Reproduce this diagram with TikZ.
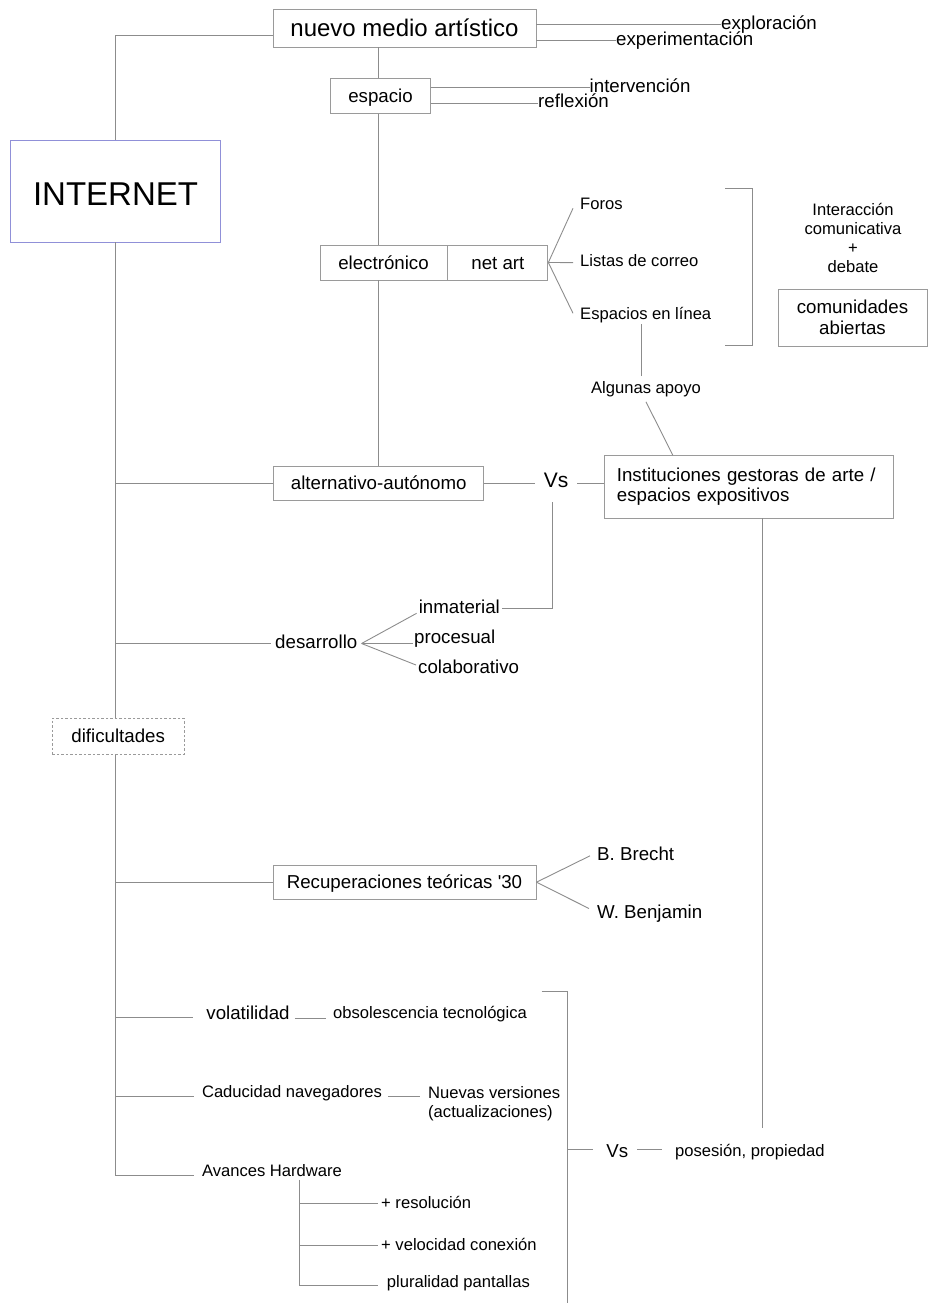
\documentclass[tikz,border=0pt]{standalone}
\usepackage{fontspec}
\setmainfont{Liberation Sans}
\newfontfamily\rawfont{Liberation Sans}
\usepackage{tikz}
\usetikzlibrary{positioning}
\definecolor{linegray}{HTML}{8C8C8C}
\definecolor{boxgray}{HTML}{9A9A9A}
\definecolor{netblue}{HTML}{9090D8}
\newcommand{\fnet}{\fontsize{33}{38}\selectfont}
\newcommand{\ftitle}{\fontsize{24}{28}\selectfont}
\newcommand{\fmid}{\fontsize{18.7}{20}\selectfont}
\newcommand{\fsmall}{\fontsize{16.6}{18.7}\selectfont}
\tikzstyle{block} = [draw=boxgray, line width=0.9pt, fill=white, rectangle, inner sep=0pt, font=\fmid]
\tikzstyle{oneline} = [text height=13.5pt, text depth=0.5pt]
\tikzstyle{mtext} = [inner sep=0pt, font=\fmid, text height=13.5pt, text depth=3.7pt]
\tikzstyle{stext} = [inner sep=0pt, font=\fsmall, text height=12pt, text depth=3.3pt]
\tikzstyle{link} = [draw=linegray, line width=0.9pt]

\begin{document}
\begin{tikzpicture}[x=1pt, y=-1pt]
    \useasboundingbox (0,0) rectangle (927,1303);
    \node [block, minimum width=263pt, minimum height=38pt, font=\ftitle, text height=17pt, text depth=0pt] (nuevo) at (404.5,28) {nuevo medio artístico};
    \node [block, draw=netblue, minimum width=210pt, minimum height=102pt, font=\fnet, text height=29pt, text depth=0pt] (internet) at (115.5,191) {INTERNET};
    \node [mtext, anchor=west] (explor) at (721,24.3) {exploración};
    \node [mtext, anchor=west] (experim) at (616,40.7) {experimentación};
    \node [block, oneline, minimum width=100pt, minimum height=35pt] (espacio) at (380.5,96.2) {espacio};
    \node [mtext, anchor=west] (interv) at (589.5,87.3) {intervención};
    \node [mtext, anchor=west] (reflex) at (538,103) {reflexión};
    \node [block, oneline, minimum width=127pt, minimum height=35pt] (elec) at (383.5,262.5) {electrónico};
    \node [block, oneline, minimum width=100pt, minimum height=35pt, right=0pt of elec] (netart) {net art};
    \node [stext, anchor=west, inner xsep=7pt] (foros) at (573,204.7) {Foros};
    \node [stext, anchor=west, inner xsep=7pt] (listas) at (573,262.6) {Listas de correo};
    \node [stext, anchor=west, inner xsep=7pt, inner ysep=1pt] (espacios) at (573,315.6) {Espacios en línea};
    \node [inner sep=0pt, align=center, font=\fsmall] (interac) at (853,238) {Interacción\\comunicativa\\+\\debate};
    \node [block, minimum width=149pt, minimum height=57pt, align=center, font={\fontsize{18.7}{21}\selectfont}] (comun) at (852.5,317.5) {comunidades\\abiertas};
    \node [stext, inner ysep=5pt] (algunas) at (646,389) {Algunas apoyo};
    \node [block, oneline, minimum width=210pt, minimum height=34pt] (alt) at (378.7,483) {alternativo-autónomo};
    \node [mtext, inner xsep=9pt, font={\fontsize{21}{24}\selectfont}] (vs1) at (556,483) {Vs};
    \node [block, minimum width=288.3pt, minimum height=62.3pt, text width=264pt, inner xsep=12.15pt, align=left, font={\fontsize{18.7}{20}\selectfont}] (inst) at (748.85,486.85) {Instituciones gestoras de arte /\\espacios expositivos};
    \coordinate (instend) at (762,1128);
    \node [mtext, inner xsep=4pt] (desarr) at (316.3,643.5) {desarrollo};
    \node [mtext, anchor=west, inner xsep=2pt] (inmat) at (416.6,608.5) {inmaterial};
    \node [mtext, anchor=west, inner xsep=1pt] (proces) at (413,638.5) {procesual};
    \node [mtext, anchor=west, inner xsep=2pt] (colab) at (416,668.8) {colaborativo};
    \node [block, oneline, dash pattern=on 2.5pt off 2pt, minimum width=131.7pt, minimum height=35.7pt] (dific) at (118.2,736.2) {dificultades};
    \node [block, oneline, minimum width=263pt, minimum height=34.3pt] (rec) at (404.5,882.2) {Recuperaciones teóricas {\rawfont '}30};
    \node [mtext, anchor=west, inner xsep=7pt] (brecht) at (590,855.8) {B. Brecht};
    \node [mtext, anchor=west, inner xsep=8pt] (benjamin) at (589,913.5) {W. Benjamin};
    \node [mtext, inner xsep=5pt] (volat) at (248,1014.8) {volatilidad};
    \node [stext, anchor=west, inner xsep=7pt] (obsol) at (326,1013.7) {obsolescencia tecnológica};
    \node [stext, inner xsep=6pt] (caduc) at (292,1093.4) {Caducidad navegadores};
    \node [inner xsep=8pt, inner ysep=0pt, anchor=north west, align=left, font={\fontsize{16.6}{19.3}\selectfont}] (nuevas) at (420,1085.8) {Nuevas versiones\\(actualizaciones)};
    \node [stext, inner xsep=6pt] (avances) at (272,1171.7) {Avances Hardware};
    \node [stext, anchor=west, inner xsep=3pt] (resol) at (378,1203.7) {+ resolución};
    \node [stext, anchor=west, inner xsep=3pt] (veloc) at (378,1245.7) {+ velocidad conexión};
    \node [stext, anchor=west, inner xsep=8.7pt] (plural) at (378,1282.7) {pluralidad pantallas};
    \node [mtext, inner xsep=9pt] (vs2) at (617.35,1152.5) {Vs};
    \node [stext, anchor=west, inner xsep=13pt] (poses) at (662,1152.4) {posesión, propiedad};
    \coordinate (brk) at (567.7,1149.3);

    \draw [link] ([yshift=-7pt]nuevo.west) -| (internet.north);
    \draw [link] ([yshift=3.7pt]nuevo.east) -- (explor.west);
    \draw [link] ([yshift=-12.7pt]nuevo.east) -- (experim.west);
    \draw [link] (nuevo.south -| alt.north) -- (espacio.north -| alt.north);
    \draw [link] ([yshift=8.9pt]espacio.east) -- (interv.west);
    \draw [link] ([yshift=-6.8pt]espacio.east) -- (reflex.west);
    \draw [link] (espacio.south -| alt.north) -- (elec.north -| alt.north);
    \draw [link] (elec.south -| alt.north) -- (alt.north);
    \draw [link] (netart.east) -- ([yshift=-3.6pt]foros.west);
    \draw [link] (netart.east) -- (listas.west);
    \draw [link] (netart.east) -- ([yshift=2.3pt]espacios.west);
    \draw [link] (725,188) -| (752,345) -- (725,345);
    \draw [link] ([xshift=-5pt]algunas.north) -- ([xshift=-5pt]algunas.north |- espacios.south);
    \draw [link] (algunas.south) -- ([xshift=-76pt]inst.north);
    \draw [link] (alt.west) -- (alt.west -| internet.south);
    \draw [link] (alt.east) -- (vs1.west);
    \draw [link] (vs1.east) -- (vs1.east -| inst.west);
    \draw [link] (inmat.east) -| ([xshift=-4pt,yshift=-10pt]vs1.south);
    \draw [link] ([xshift=13.15pt]inst.south) -- (instend);
    \draw [link] (desarr.west -| internet.south) -- (desarr.west);
    \draw [link] (desarr.east) -- ([yshift=-4.8pt]inmat.west);
    \draw [link] (desarr.east) -- (desarr.east -| proces.west);
    \draw [link] (desarr.east) -- ([yshift=3.8pt]colab.west);
    \draw [link] (internet.south) -- (internet.south |- dific.north);
    \draw [link] (dific.south -| internet.south) |- ([xshift=-2pt,yshift=-3.3pt]avances.west);
    \draw [link] (rec.west -| internet.south) -- (rec.west);
    \draw [link] (rec.east) -- (brecht.west);
    \draw [link] (rec.east) -- ([yshift=5pt]benjamin.west);
    \draw [link] ([yshift=-2.5pt]volat.west -| internet.south) -- ([xshift=-8pt,yshift=-2.5pt]volat.west);
    \draw [link] ([yshift=-3.2pt]volat.east) -- ([yshift=-3.2pt]volat.east -| obsol.west);
    \draw [link] ([yshift=-2.6pt]caduc.west -| internet.south) -- ([xshift=-2pt,yshift=-2.6pt]caduc.west);
    \draw [link] ([yshift=-3.3pt]caduc.east) -- ([yshift=-3.3pt]caduc.east -| nuevas.west);
    \draw [link] ([xshift=27.3pt]avances.south) |- ([yshift=-2.3pt]plural.west);
    \draw [link] ([xshift=27.3pt]avances.south |- resol.west) -- (resol.west);
    \draw [link] ([xshift=27.3pt]avances.south |- veloc.west) -- (veloc.west);
    \draw [link] (541.7,991.7) -| (567.7,1303);
    \draw [link] (brk) -- ([xshift=-4.4pt,yshift=3.2pt]vs2.west);
    \draw [link] ([yshift=3.2pt]vs2.east) -- ([yshift=3.2pt]vs2.east -| poses.west);
\end{tikzpicture}
\end{document}
